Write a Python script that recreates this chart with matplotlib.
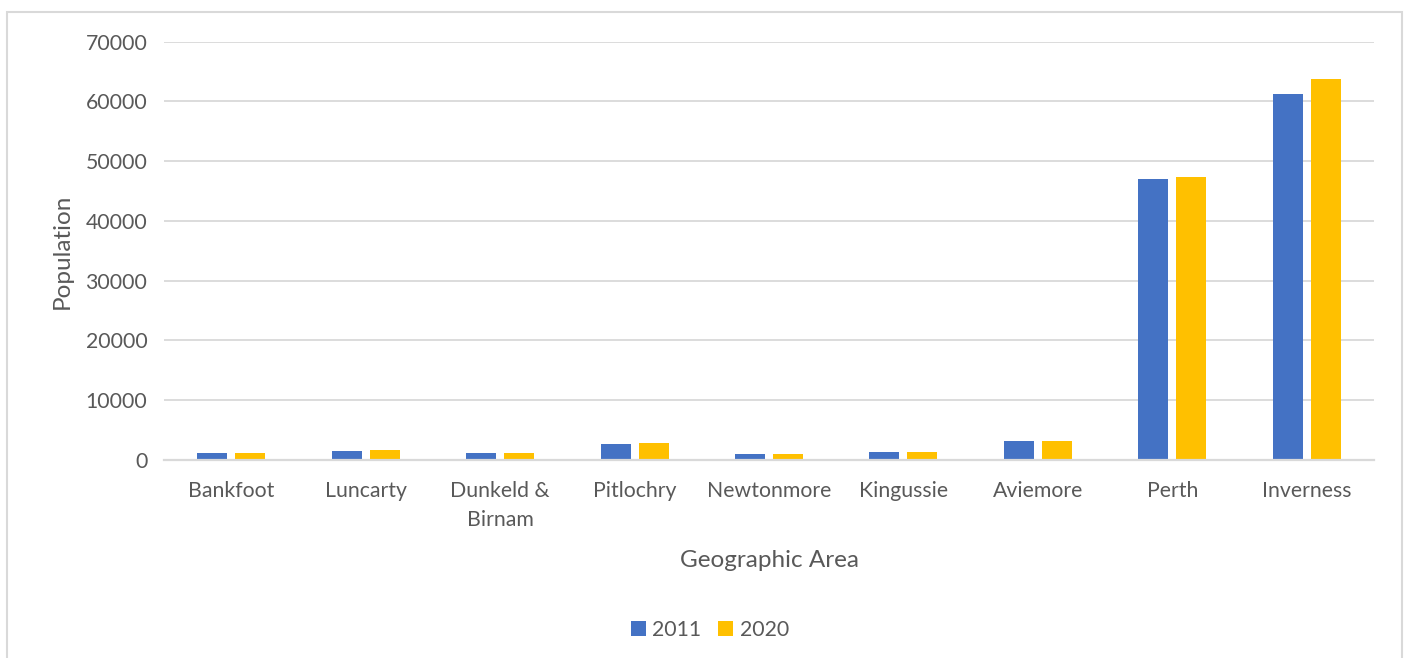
import numpy as np
import matplotlib.pyplot as plt
from matplotlib.patches import Rectangle

plt.rcParams['font.family'] = ['Lato', 'DejaVu Sans']

areas = ['Bankfoot', 'Luncarty', 'Dunkeld &\nBirnam', 'Pitlochry', 'Newtonmore',
         'Kingussie', 'Aviemore', 'Perth', 'Inverness']
pop_2011 = [1220, 1560, 1230, 2730, 1060, 1400, 3100, 46970, 61250]
pop_2020 = [1150, 1600, 1250, 2840, 1050, 1410, 3170, 47380, 63710]
yticks = [0, 10000, 20000, 30000, 40000, 50000, 60000, 70000]

BLUE = '#4472c4'
GOLD = '#ffc000'
GRID = '#d9d9d9'
TEXT = '#595959'

W, H = 1405, 658
fig = plt.figure(figsize=(W / 100, H / 100), dpi=100)
ax = fig.add_axes([164 / W, 1 - 460 / H, (1374 - 164) / W, (460 - 41.7) / H])

x = np.arange(len(areas))
bw = 0.223
off = 0.141
ax.bar(x - off, pop_2011, bw, color=BLUE, label='2011', zorder=3)
ax.bar(x + off, pop_2020, bw, color=GOLD, label='2020', zorder=3)

ax.set_xlim(-0.5, len(areas) - 0.5)
ax.set_ylim(0, 70000)
ax.set_yticks(yticks)
ax.set_yticklabels([str(v) for v in yticks])
ax.set_xticks(x)
ax.set_xticklabels(areas, linespacing=1.6)
ax.tick_params(axis='both', length=0, colors=TEXT, labelsize=15.3)
ax.tick_params(axis='y', pad=12)
ax.tick_params(axis='x', pad=15)

ax.grid(axis='y', color=GRID, lw=1.3, zorder=0)
for s in ['top', 'right', 'left']:
    ax.spines[s].set_visible(False)
ax.spines['bottom'].set_color(GRID)
ax.spines['bottom'].set_linewidth(1.6)
ax.spines['bottom'].set_zorder(4)

ax.set_ylabel('Population', fontsize=17.5, color=TEXT, labelpad=9)
ax.set_xlabel('Geographic Area', fontsize=17.5, color=TEXT, labelpad=14)

fig.legend(loc='center', bbox_to_anchor=(710 / W, 1 - 630 / H), ncol=2, frameon=False,
           fontsize=15.3, labelcolor=TEXT, handlelength=0.7, handleheight=0.7,
           handletextpad=0.3, columnspacing=0.8)

# chart frame (open at the bottom)
fig.add_artist(Rectangle((7 / W, -0.1), (1402 - 7) / W, 1.1 - 12 / H,
                         transform=fig.transFigure, fill=False, ec=GRID, lw=1.5))

fig.savefig('out.png', dpi=100)
